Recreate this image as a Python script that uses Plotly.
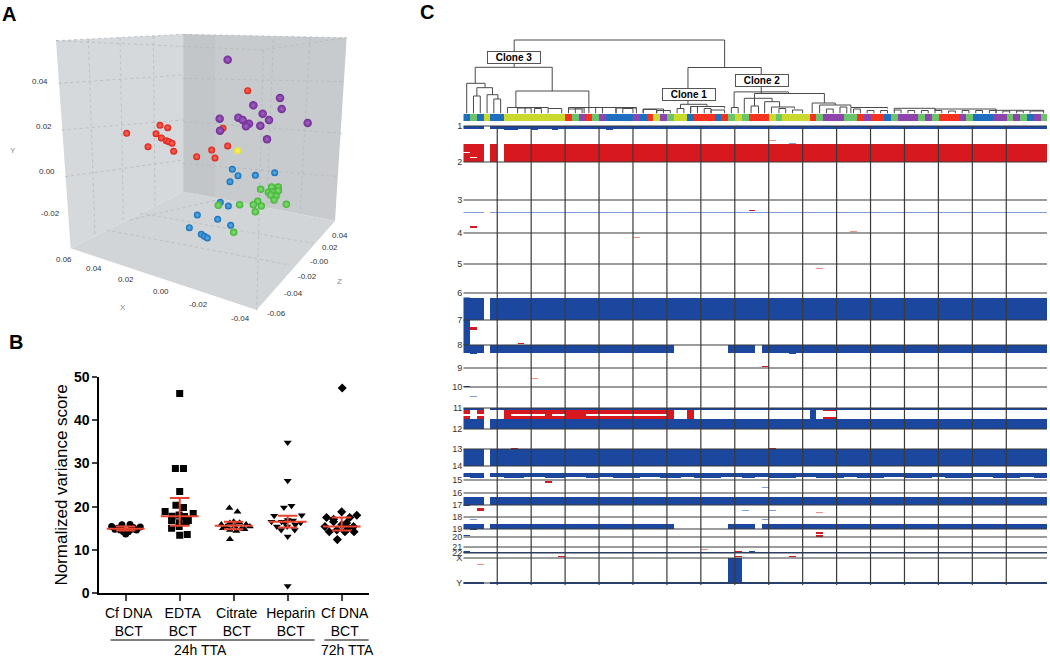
import plotly.graph_objects as go

W, H = 1050, 657
FONT = "Liberation Sans"

# ---- panel A: points are read off the printed 3D view, so they are projected
# view coordinates (3 units per pixel), not recovered x/y/z values
red_x = [380, 444, 468, 480, 503, 484, 499, 507, 516, 521, 590, 635, 645, 683, 669, 743]
red_y = [400, 440, 401, 376, 383, 414, 422, 425, 430, 454, 470, 450, 474, 438, 385, 272]
purple_x = [683, 760, 840, 845, 788, 807, 715, 728, 747, 738, 781, 659, 660, 923, 801]
purple_y = [179, 316, 294, 327, 341, 360, 353, 360, 371, 379, 377, 356, 392, 369, 418]
yellow_x = [713]
yellow_y = [452]
blue_x = [697, 714, 766, 824, 690, 661, 685, 592, 653, 692, 568, 604, 613, 622]
blue_y = [508, 527, 526, 518, 545, 607, 618, 645, 658, 676, 683, 703, 709, 714]
green_x = [782, 815, 835, 805, 818, 835, 828, 812, 822, 859, 773, 760, 784, 766, 719, 655, 701]
green_y = [568, 561, 561, 577, 577, 572, 588, 585, 600, 613, 604, 614, 618, 635, 614, 616, 697]

y_ticks_3d = [("0.04", 120, 243), ("0.02", 132, 380), ("0.00", 142, 513), ("-0.02", 150, 640)]
x_ticks_3d = [("0.06", 193, 777), ("0.04", 283, 806), ("0.02", 378, 838),
              ("0.00", 484, 874), ("-0.02", 595, 912), ("-0.04", 720, 955)]
z_ticks_3d = [("0.04", 1020, 706), ("0.02", 990, 743), ("-0.00", 958, 783),
              ("-0.02", 922, 829), ("-0.04", 880, 880), ("-0.06", 830, 940)]

# ---- panel B
categories = ["Cf DNA<br>BCT", "EDTA<br>BCT", "Citrate<br>BCT", "Heparin<br>BCT", "Cf DNA<br>BCT"]
cf24_val = [15.4, 15.0, 15.8, 15.9, 15.3, 13.7, 14.8, 14.6, 14.8, 14.6, 14.1, 14.2, 14.2, 15.2]
cf24_off = [-0.26, -0.15, -0.07, 0.08, 0.27, 0.0, -0.2, -0.1, 0.11, 0.2, 0.0, -0.04, 0.05, 0.14]
edta_val = [46.1, 28.8, 28.8, 23.5, 20.3, 19.8, 18.9, 18.4, 17.8, 18.1, 17.7, 16.8, 16.8, 16.3, 16.5,
            15.0, 15.4, 13.4, 13.6]
edta_off = [0.0, -0.08, 0.07, 0.0, -0.07, 0.07, -0.27, 0.25, -0.14, -0.01, 0.09, -0.15, 0.16, -0.01, 0.12,
            -0.15, -0.01, 0.0, 0.14]
citrate_val = [19.7, 18.8, 12.5, 15.9, 15.4, 16.5, 16.3, 15.9, 15.0, 14.6, 14.4, 14.9, 15.4, 16.2, 15.4, 14.8]
citrate_off = [-0.08, 0.07, -0.07, -0.23, -0.14, 0.0, 0.11, 0.23, -0.2, -0.07, 0.05, 0.14, 0.02, -0.07, 0.3, 0.2]
heparin_val = [34.8, 26.0, 1.7, 20.2, 19.8, 17.9, 18.0, 16.5, 16.9, 16.8, 16.3, 15.4, 15.4, 15.8, 14.6, 14.6,
               13.1, 16.5, 16.2]
heparin_off = [0.0, 0.0, 0.0, 0.07, -0.07, -0.25, 0.26, -0.11, 0.0, 0.1, 0.24, -0.2, -0.01, 0.14, -0.12, 0.13,
               0.0, -0.3, -0.05]
cf72_val = [47.4, 18.8, 17.5, 18.0, 17.5, 17.1, 12.4, 16.5, 16.2, 15.4, 15.8, 14.2, 14.6, 14.2, 14.2, 15.4, 15.0]
cf72_off = [0.01, 0.0, -0.28, 0.28, 0.15, -0.15, -0.08, -0.15, 0.09, 0.22, 0.0, -0.23, -0.09, 0.06, 0.23, -0.31, 0.12]
group_median = [14.9, 17.8, 15.6, 16.5, 15.4]
group_upper = [15.4, 22.0, 16.5, 17.9, 17.5]
group_lower = [14.5, 15.6, 14.8, 15.2, 14.5]

# ---- panel C: one colour per cell under the tree
cell_groups = ("BGBY" "BB" "YYYYYYYYY" "RGPRGP" "BBBB" "PBRYPG" "YY" "B" "RRR" "B" "R" "GYG" "RRR" "YG"
               "YYYY" "RG" "PPP" "GG" "RP" "RR" "BG" "PPP" "GPG" "RRR" "PG" "BBB" "PP" "GPGBPG")
group_index = {"B": 0, "G": 1, "Y": 2, "R": 3, "P": 4}
n_cells = len(cell_groups)

chrom_names = ["1", "2", "3", "4", "5", "6", "7", "8", "9", "10", "11", "12", "13", "14", "15", "16", "17",
               "18", "19", "20", "21", "22", "X", "Y"]
chrom_bins = [126, 162, 200, 233, 264, 293, 320, 345, 368, 387, 408, 429, 449, 466, 480, 493, 505, 517, 529,
              537, 547, 553, 558, 583]

ALL = [(0, 3), (4, 86)]
CHR8 = [(0, 3), (4, 31), (39, 43), (44, 86)]

# (first bin, last bin, cell ranges)
loss_segments = [
    (126, 129, ALL), (129, 130, [(6, 8), (10, 11), (13, 14), (21, 22)]),
    (298, 320, ALL), (320, 345, [(0, 1)]), (345, 353, CHR8), (353, 354, [(1, 2), (48, 49)]),
    (386, 387, [(0, 1)]), (408, 410, ALL), (408, 419, [(51, 52)]), (419, 429, ALL),
    (449, 466, ALL), (473, 477, ALL),
    (477, 478, [(1, 3), (6, 9), (12, 15), (18, 20), (22, 26), (29, 32), (34, 38), (41, 43), (45, 49), (52, 56),
                (58, 62), (65, 69), (71, 75), (78, 82), (84, 86)]),
    (497, 505, ALL), (505, 506, [(0, 1)]), (524, 529, CHR8), (529, 530, [(1, 2)]),
    (535, 536, [(0, 1)]), (551, 552, [(0, 1), (42, 43)]), (552, 553, [(0, 86)]),
    (558, 583, [(39, 41)]), (582, 584, ALL),
]
gain_segments = [
    (144, 162, [(0, 3), (4, 5), (6, 86)]), (210, 211, [(42, 43)]), (226, 228, [(1, 2)]),
    (327, 330, [(1, 2)]), (343, 344, [(8, 9)]), (366, 367, [(44, 45)]),
    (410, 414, [(0, 1), (2, 3)]), (416, 419, [(0, 1), (2, 3)]),
    (410, 419, [(6, 31), (33, 34)]), (410, 411, [(53, 55)]), (417, 419, [(53, 55)]),
    (448, 449, [(7, 8), (45, 46)]), (481, 483, [(12, 13)]), (508, 511, [(2, 3)]),
    (532, 534, [(52, 53)]), (535, 537, [(52, 53)]), (551, 552, [(40, 41)]),
    (556, 557, [(14, 15), (40, 41), (48, 49)]),
]
faint_loss_segments = [
    (143, 144, [(48, 49)]), (212, 213, ALL), (297, 298, [(0, 1)]), (396, 397, [(1, 2)]),
    (487, 488, [(44, 45)]), (510, 511, [(41, 42), (45, 46)]), (519, 520, [(1, 2), (44, 45)]),
]
faint_gain_segments = [
    (140, 141, [(45, 46)]), (237, 238, [(25, 26)]), (231, 232, [(57, 58)]), (268, 269, [(52, 53)]),
    (378, 379, [(10, 11)]), (512, 513, [(52, 53)]), (549, 550, [(35, 36)]), (564, 565, [(2, 3)]),
]
# white slivers inside the gain bands
clear_segments = [
    (152, 153, [(0, 1)]), (157, 158, [(1, 2)]),
    (414, 416, [(7, 12), (13, 15), (18, 30)]),
]

# (left, right, height, left drop, right drop), in cell index and height above the strip
dendro_links = [
    (7.0, 38.0, 73.5, 46.2, 46.0), (1.26, 12.6, 46.2, 30.2, 22.5), (0, 2.7, 30.2, 0, 25.8),
    (1.5, 3.8, 25.8, 17.5, 18.8), (1, 2, 17.5, 0, 0), (3, 4.6, 18.8, 0, 14.5), (4, 5, 14.5, 0, 0),
    (7.25, 18, 22.5, 6, 6), (6, 8.6, 6, 0, 5.5), (7.5, 9.5, 5.5, 0, 0), (8.6, 12, 6, 0, 5), (10, 11, 5, 0, 0),
    (12, 14, 5, 0, 0), (15, 19, 6, 4.5, 6), (15, 17, 4.5, 0, 0), (16, 17.3, 5.5, 0, 0), (18, 19, 6, 0, 0),
    (20, 22, 6, 0, 0), (18, 25, 6, 5, 5), (22, 25, 5.5, 0, 0), (23, 24.5, 5, 0, 0), (26, 28, 4, 0, 0),
    (28, 30, 3, 0, 0), (26, 29, 4.5, 0, 0),
    (32.6, 43.4, 46, 9.2, 20.5), (31.5, 35.4, 9.2, 5, 7), (31, 32, 5, 0, 0), (33, 38, 7, 0, 5), (33, 34, 7, 0, 0),
    (35, 36, 5, 0, 0), (36, 38, 3.5, 0, 0),
    (39.4, 47.4, 21.6, 6, 20), (39, 40, 6, 0, 0), (42.4, 52.7, 20, 15.2, 10.5), (40.9, 45, 15.2, 0, 11.8),
    (42.4, 42.4, 15.2, 7.5, 7.5), (41.9, 43, 7.5, 0, 0), (43.9, 46.1, 11.8, 0, 6.5), (44.9, 48.3, 6.5, 0, 5),
    (46, 47, 5, 0, 0), (48, 49.5, 3.5, 0, 0), (50.9, 54.3, 10.5, 0, 8.5), (52, 56.6, 8.5, 0, 6.5),
    (53, 54, 4.5, 0, 0), (55, 56, 6.5, 0, 0), (56.6, 62, 6, 0, 5), (57, 58, 4.5, 0, 0), (59, 60, 3, 0, 0),
    (61, 62, 3, 0, 0), (63, 69, 5.2, 3, 3), (63, 64, 3.5, 0, 0), (65, 66, 3, 0, 0), (67, 68, 3, 0, 0),
    (69, 78, 4.5, 3, 3), (69, 70, 3, 0, 0), (71, 72, 2.5, 0, 0), (73, 74, 3, 0, 0), (75, 76, 3, 0, 0),
    (77, 78, 3, 0, 0), (78, 85, 3.2, 0, 2), (79, 80, 2.5, 0, 0), (81, 82, 2.5, 0, 0), (83, 85, 2.5, 0, 0),
]
clone_labels = [("Clone 3", 514.3, 57.2), ("Clone 1", 689, 94), ("Clone 2", 762, 80.5)]


def px_x(x):
    return x / W


def px_y(y):
    return 1 - y / H


def layer(z, segments, value):
    for y0, y1, ranges in segments:
        for c0, c1 in ranges:
            for row in range(y0, y1):
                for cell in range(c0, c1):
                    z[row - TOP_BIN][cell] = value


def page_text(text, x, y, **kwargs):
    return dict(text=text, x=px_x(x), y=px_y(y), xref="paper", yref="paper", xanchor="center", yanchor="middle",
                showarrow=False, **kwargs)


fig = go.Figure()

# -------- panel A, drawn on a hidden axis pair
walls = [
    ([168, 550, 550, 212], [122, 103, 575, 745], "#d6d9db"),
    ([550, 1040, 1005, 550], [103, 113, 663, 575], "#c8cbce"),
    ([550, 645, 645, 550], [103, 108, 592, 575], "#c3c6c9"),
    ([212, 550, 1005, 770], [745, 575, 663, 930], "#d2d5d7"),
]
for wall_x, wall_y, colour in walls:
    fig.add_trace(go.Scatter(x=wall_x, y=wall_y, fill="toself", fillcolor=colour, mode="none",
                             xaxis="x2", yaxis="y2", hoverinfo="skip"))

box_lines = [
    (168, 122, 550, 103), (550, 103, 1040, 113), (168, 122, 790, 150), (1040, 113, 790, 150), (790, 150, 770, 930),
    (265, 118, 285, 705), (360, 112, 370, 660), (460, 108, 465, 620), (175, 250, 550, 225), (185, 390, 550, 360),
    (195, 530, 550, 480), (550, 235, 1035, 245), (550, 365, 1025, 400), (550, 490, 1015, 530),
    (820, 118, 800, 625), (930, 115, 900, 640), (320, 690, 870, 795), (420, 640, 940, 730), (390, 660, 650, 600),
]
for x0, y0, x1, y1 in box_lines:
    fig.add_trace(go.Scatter(x=[x0, x1], y=[y0, y1], mode="lines", xaxis="x2", yaxis="y2", hoverinfo="skip",
                             line=dict(color="#b0b4b8", width=0.7, dash="dot")))

spheres = [
    (red_x, red_y, "#dd1f17", "#f9705f", 7), (purple_x, purple_y, "#6f2a93", "#a565c6", 8.5),
    (yellow_x, yellow_y, "#e8e226", "#f7f47a", 7), (blue_x, blue_y, "#146db8", "#5fb4ea", 7),
    (green_x, green_y, "#43b437", "#86e076", 7.5),
]
for sx, sy, colour, shine, size in spheres:
    fig.add_trace(go.Scatter(x=sx, y=sy, mode="markers", xaxis="x2", yaxis="y2",
                             marker=dict(size=size, color=colour, line=dict(width=0),
                                         gradient=dict(type="radial", color=shine))))

annotations = []
for ticks in (y_ticks_3d, x_ticks_3d, z_ticks_3d):
    for label, tx, ty in ticks:
        annotations.append(dict(text=label, x=tx, y=ty, xref="x2", yref="y2", showarrow=False,
                                font=dict(family=FONT, size=8, color="#333333")))
for label, tx, ty in [("Y", 40, 451), ("X", 370, 921), ("Z", 1017, 845)]:
    annotations.append(dict(text=label, x=tx, y=ty, xref="x2", yref="y2", showarrow=False,
                            font=dict(family=FONT, size=8, color="#8a8a8a")))

# -------- panel B
groups = [(cf24_val, cf24_off, "circle"), (edta_val, edta_off, "square"), (citrate_val, citrate_off, "triangle-up"),
          (heparin_val, heparin_off, "triangle-down"), (cf72_val, cf72_off, "diamond")]
for pos, (vals, offs, symbol) in enumerate(groups, start=1):
    fig.add_trace(go.Scatter(x=[pos + o for o in offs], y=vals, mode="markers",
                             marker=dict(symbol=symbol, size=7, color="black", line=dict(width=0))))
    med, up, lo = group_median[pos - 1], group_upper[pos - 1], group_lower[pos - 1]
    fig.add_trace(go.Scatter(
        x=[pos - 0.35, pos + 0.35, None, pos - 0.18, pos + 0.18, None, pos - 0.18, pos + 0.18, None, pos, pos],
        y=[med, med, None, up, up, None, lo, lo, None, lo, up],
        mode="lines", line=dict(color="#ea4330", width=2)))

shapes = [
    dict(type="line", xref="x", yref="paper", x0=0.72, x1=4.5, y0=px_y(640), y1=px_y(640),
         line=dict(color="black", width=1)),
    dict(type="line", xref="x", yref="paper", x0=4.68, x1=5.5, y0=px_y(640), y1=px_y(640),
         line=dict(color="black", width=1)),
]
for text, tx in [("24h TTA", 200.7), ("72h TTA", 347)]:
    annotations.append(page_text(text, tx, 650, font=dict(family=FONT, size=14, color="black")))

# -------- panel C
TOP_BIN, BOTTOM_BIN = 124, 585
z = [[0] * n_cells for _ in range(BOTTOM_BIN - TOP_BIN)]
layer(z, loss_segments, 1)
layer(z, gain_segments, 2)
layer(z, faint_loss_segments, 3)
layer(z, faint_gain_segments, 4)
layer(z, clear_segments, 0)

fig.add_trace(go.Heatmap(
    z=z, x=list(range(n_cells)), y=[TOP_BIN + i + 0.5 for i in range(BOTTOM_BIN - TOP_BIN)],
    xaxis="x3", yaxis="y3", zmin=0, zmax=4, showscale=False, hoverinfo="skip",
    colorscale=[[0, "white"], [0.125, "white"], [0.125, "#1b479e"], [0.375, "#1b479e"], [0.375, "#d7191f"],
                [0.625, "#d7191f"], [0.625, "#7f9cd8"], [0.875, "#7f9cd8"], [0.875, "#f09080"], [1, "#f09080"]],
))

grid_x, grid_y = [], []
for cell in range(5, 81, 5):
    grid_x += [cell - 0.5, cell - 0.5, None]
    grid_y += [126, BOTTOM_BIN, None]
for b in chrom_bins:
    grid_x += [-0.5, n_cells - 0.5, None]
    grid_y += [b, b, None]
fig.add_trace(go.Scatter(x=grid_x, y=grid_y, mode="lines", xaxis="x3", yaxis="y3", hoverinfo="skip",
                         line=dict(color="#3a3a3a", width=1.2)))

fig.add_trace(go.Heatmap(
    z=[[group_index[g] for g in cell_groups]], x=list(range(n_cells)), y=[0],
    xaxis="x4", yaxis="y4", zmin=0, zmax=4, showscale=False, hoverinfo="skip",
    colorscale=[[0, "#1f6fc0"], [0.125, "#1f6fc0"], [0.125, "#6cc46a"], [0.375, "#6cc46a"], [0.375, "#c9d92e"],
                [0.625, "#c9d92e"], [0.625, "#f4321e"], [0.875, "#f4321e"], [0.875, "#8e44ad"], [1, "#8e44ad"]],
))

tree_x, tree_y = [], []
for left, right, height, drop_l, drop_r in dendro_links:
    tree_x += [left, left, right, right, None]
    tree_y += [drop_l, height, height, drop_r, None]
fig.add_trace(go.Scatter(x=tree_x, y=tree_y, mode="lines", xaxis="x5", yaxis="y5", hoverinfo="skip",
                         line=dict(color="#4a4a4a", width=1)))

for text, cx, cy in clone_labels:
    annotations.append(page_text(f"<b>{text}</b>", cx, cy, width=52, height=11, bgcolor="white",
                                 bordercolor="#555555", borderwidth=1, borderpad=0,
                                 font=dict(family=FONT, size=10, color="black")))

for text, tx, ty in [("A", 9, 14), ("B", 16, 342), ("C", 427, 12)]:
    annotations.append(page_text(f"<b>{text}</b>", tx, ty, font=dict(family=FONT, size=20, color="black")))

hidden = dict(visible=False, showgrid=False, zeroline=False, automargin=False)
cell_range = [-0.5, n_cells - 0.5]
fig.update_layout(
    width=W, height=H, margin=dict(l=0, r=0, t=0, b=0), paper_bgcolor="white", plot_bgcolor="rgba(0,0,0,0)",
    showlegend=False, hovermode=False, shapes=shapes, annotations=annotations,
    font=dict(family=FONT),
    xaxis=dict(domain=[px_x(99.3), px_x(369)], range=[0.511, 5.506], anchor="y", showgrid=False, zeroline=False,
               automargin=False, tickmode="array", tickvals=[1, 2, 3, 4, 5], ticktext=categories, ticks="outside",
               ticklen=6, tickwidth=2, showline=True, linecolor="black", linewidth=2, ticklabelshift=3,
               tickfont=dict(family=FONT, size=14, color="black")),
    yaxis=dict(domain=[px_y(593.3), px_y(376.7)], range=[0, 50], anchor="x", showgrid=False, zeroline=False,
               automargin=False, tickvals=[0, 10, 20, 30, 40, 50], ticks="outside", ticklen=5, tickwidth=2,
               showline=True, linecolor="black", linewidth=2,
               tickfont=dict(family=FONT, size=14, color="black", weight="bold"),
               title=dict(text="Normalized variance score", standoff=2,
                          font=dict(family=FONT, size=17, color="black"))),
    xaxis2=dict(domain=[0, px_x(400)], range=[0, 1200], anchor="y2", **hidden),
    yaxis2=dict(domain=[px_y(330), 1], range=[990, 0], anchor="x2", **hidden),
    xaxis3=dict(domain=[px_x(463.3), px_x(1047)], range=cell_range, anchor="y3", **hidden),
    yaxis3=dict(domain=[px_y(BOTTOM_BIN), px_y(TOP_BIN)], range=[BOTTOM_BIN, TOP_BIN], anchor="x3", showgrid=False,
                zeroline=False, automargin=False, tickmode="array", tickvals=chrom_bins, ticktext=chrom_names,
                ticks="", ticklen=0, tickfont=dict(family=FONT, size=9, color="#333333")),
    xaxis4=dict(domain=[px_x(463.3), px_x(1047)], range=cell_range, anchor="y4", **hidden),
    yaxis4=dict(domain=[px_y(121), px_y(114)], range=[-0.5, 0.5], anchor="x4", **hidden),
    xaxis5=dict(domain=[px_x(463.3), px_x(1047)], range=cell_range, anchor="y5", **hidden),
    yaxis5=dict(domain=[px_y(113.5), px_y(35)], range=[0, 78.5], anchor="x5", **hidden),
)

fig.write_html("out.html", config=dict(displayModeBar=False), post_script="document.body.style.margin='0';")
